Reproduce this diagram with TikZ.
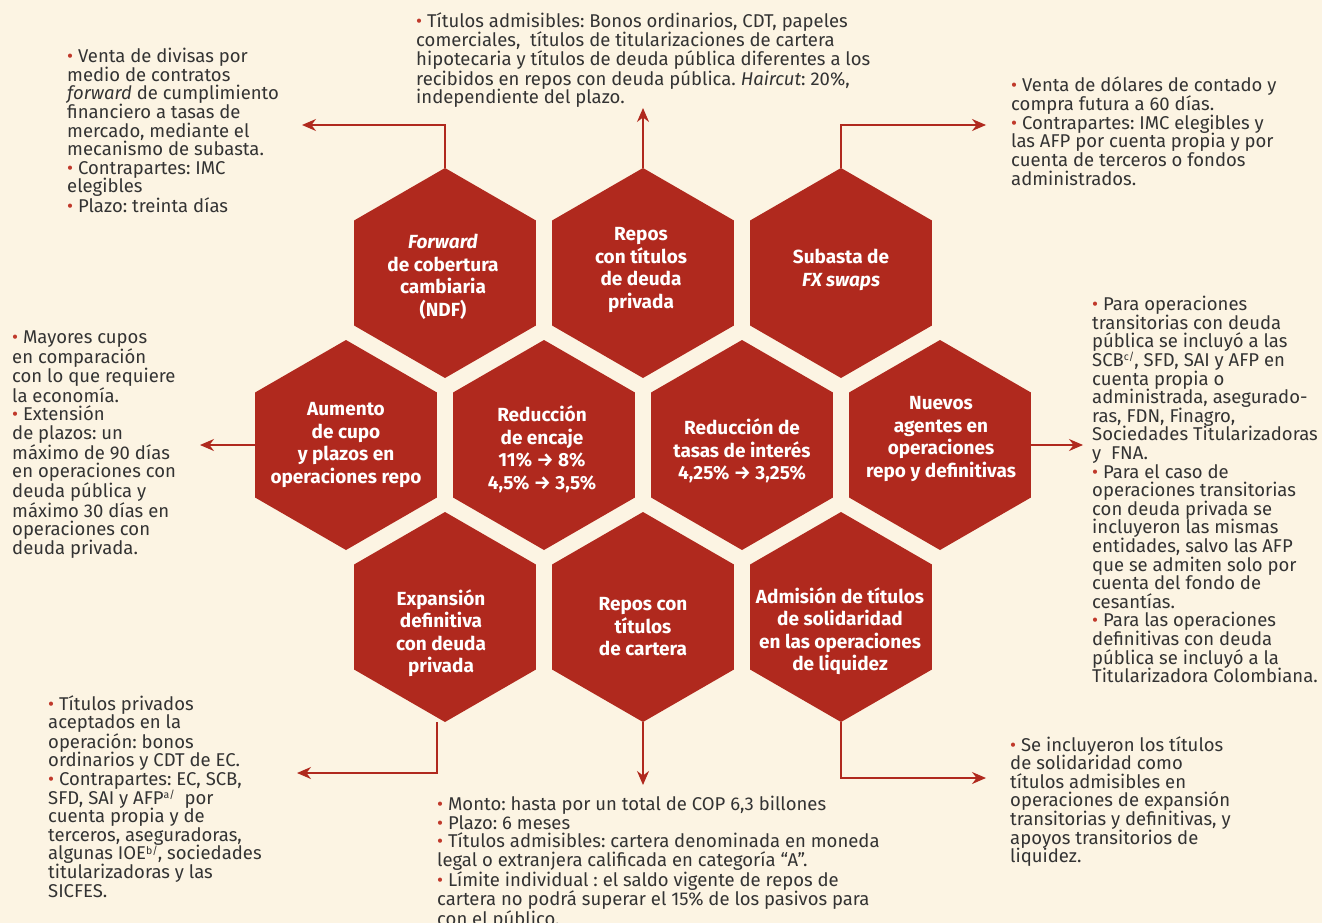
\documentclass[tikz,border=0pt]{standalone}
\usepackage{fontspec}
\setmainfont{Fira Sans}
\usetikzlibrary{shapes.geometric,arrows.meta}
\definecolor{bg}{HTML}{FCF4E3}
\definecolor{hexred}{HTML}{B0291E}
\definecolor{txt}{HTML}{333333}
\definecolor{bulred}{HTML}{C0392B}
\newcommand\bul{{\color{bulred}•}}
\newcommand\supnote[1]{\smash{\raisebox{0.32em}{\fontsize{10.5}{10.5}\selectfont #1}}}
\frenchspacing
\tikzset{
  hex/.style={regular polygon, regular polygon sides=6, shape border rotate=30,
    minimum size=210pt, inner sep=0pt, fill=hexred, draw=none},
  hextext/.style={text=white, font=\bfseries\fontsize{19}{22.5}\selectfont, align=center, inner sep=0pt},
  info/.style={text=txt, font=\frenchspacing\fontsize{18.5}{18.6}\selectfont, align=left, inner sep=0pt, anchor=north west},
  arr/.style={draw=hexred, line width=1.6pt, -{Stealth[length=14pt,width=12pt]}}
}
\begin{document}
\begin{tikzpicture}[x=1pt,y=-1pt]
\fill[bg] (0,0) rectangle (1322,923);
\useasboundingbox (0,0) rectangle (1322,923);

% hexagons
\node[hex] (h1) at (445,273) {};
\node[hex] (h2) at (643,273) {};
\node[hex] (h3) at (841,273) {};
\node[hex] (h4) at (346,445) {};
\node[hex] (h5) at (544,445) {};
\node[hex] (h6) at (742,445) {};
\node[hex] (h7) at (940,445) {};
\node[hex] (h8) at (445,617) {};
\node[hex] (h9) at (643,617) {};
\node[hex] (h10) at (841,617) {};

% hexagon texts
\node[hextext] (t1) at (443,277) {\textit{Forward}\\de cobertura\\cambiaria\\(NDF)};
\node[hextext] (t2) at (641,270) {Repos\\con títulos\\de deuda\\privada};
\node[hextext] (t3) at (841,270) {Subasta de\\\textit{FX swaps}};
\node[hextext] (t4) at (346,445) {Aumento\\de cupo\\y plazos en\\operaciones repo};
\node[hextext] (t5) at (542,449) {Reducción\\de encaje\\11\% → 8\%\\4,5\% → 3,5\%};
\node[hextext] (t6) at (742,451) {Reducción de\\tasas de interés\\4,25\% → 3,25\%};
\node[hextext] (t7) at (941,439) {Nuevos\\agentes en\\operaciones\\repo y definitivas};
\node[hextext] (t8) at (441,633) {Expansión\\definitiva\\con deuda\\privada};
\node[hextext] (t9) at (643,627) {Repos con\\títulos\\de cartera};
\node[hextext] (t10) at (840,631) {Admisión de títulos\\de solidaridad\\en las operaciones\\de liquidez};

% info texts
\node[info] (i1) at (67,48) {\bul{} Venta de divisas por\\medio de contratos\\\textit{forward} de cumplimiento\\financiero a tasas de\\mercado, mediante el\\mecanismo de subasta.\\\bul{} Contrapartes: IMC\\elegibles\\\bul{} Plazo: treinta días};
\node[info] (i2) at (416,12) {\bul{} Títulos admisibles: Bonos ordinarios, CDT, papeles\\comerciales,\ \ títulos de titularizaciones de cartera\\hipotecaria y títulos de deuda pública diferentes a los\\recibidos en repos con deuda pública. \textit{Haircut}: 20\%,\\independiente del plazo.};
\node[info] (i3) at (1011,76) {\bul{} Venta de dólares de contado y\\compra futura a 60 días.\\\bul{} Contrapartes: IMC elegibles y\\las AFP por cuenta propia y por\\cuenta de terceros o fondos\\administrados.};
\node[info] (i4) at (12,331) {\bul{} Mayores cupos\\en comparación\\con lo que requiere\\la economía.\\\bul{} Extensión\\de plazos: un\\máximo de 90 días\\en operaciones con\\deuda pública y\\máximo 30 días en\\operaciones con\\deuda privada.};
\node[info] (i7) at (1092,296) {\bul{} Para operaciones\\transitorias con deuda\\pública se incluyó a las\\SCB\supnote{c/}, SFD, SAI y AFP en\\cuenta propia o\\administrada, asegurado-\\ras, FDN, Finagro,\\Sociedades Titularizadoras\\y\ \ FNA.\\\bul{} Para el caso de\\operaciones transitorias\\con deuda privada se\\incluyeron las mismas\\entidades, salvo las AFP\\que se admiten solo por\\cuenta del fondo de\\cesantías.\\\bul{} Para las operaciones\\definitivas con deuda\\pública se incluyó a la\\Titularizadora Colombiana.};
\node[info] (i8) at (48,695) {\bul{} Títulos privados\\aceptados en la\\operación: bonos\\ordinarios y CDT de EC.\\\bul{} Contrapartes: EC, SCB,\\SFD, SAI y AFP\supnote{a/}\ \ por\\cuenta propia y de\\terceros, aseguradoras,\\algunas IOE\supnote{b/}, sociedades\\titularizadoras y las\\SICFES.};
\node[info] (i9) at (437,796) {\bul{} Monto: hasta por un total de COP 6,3 billones\\\bul{} Plazo: 6 meses\\\bul{} Títulos admisibles: cartera denominada en moneda\\legal o extranjera calificada en categoría “A”.\\\bul{} Límite individual : el saldo vigente de repos de\\cartera no podrá superar el 15\% de los pasivos para\\con el público.};
\node[info] (i10) at (1010,736) {\bul{} Se incluyeron los títulos\\de solidaridad como\\títulos admisibles en\\operaciones de expansión\\transitorias y definitivas, y\\apoyos transitorios de\\liquidez.};

% arrow end points
\coordinate (a1) at (302,125);
\coordinate (a2) at (643,108);
\coordinate (a3) at (986,125);
\coordinate (a4) at (200,445);
\coordinate (a7) at (1083,445);
\coordinate (a8) at (297,773);
\coordinate (a9) at (643,785);
\coordinate (a10) at (986,778);

\draw[arr] (h1.90) |- (a1);
\draw[arr] (h2.90) -- (a2);
\draw[arr] (h3.90) |- (a3);
\draw[arr] (h4.180) -- (a4);
\draw[arr] (h7.0) -- (a7);
\draw[arr] ([xshift=-8pt]h8.270) |- (a8);
\draw[arr] (h9.270) -- (a9);
\draw[arr] (h10.270) |- (a10);
\end{tikzpicture}
\end{document}
